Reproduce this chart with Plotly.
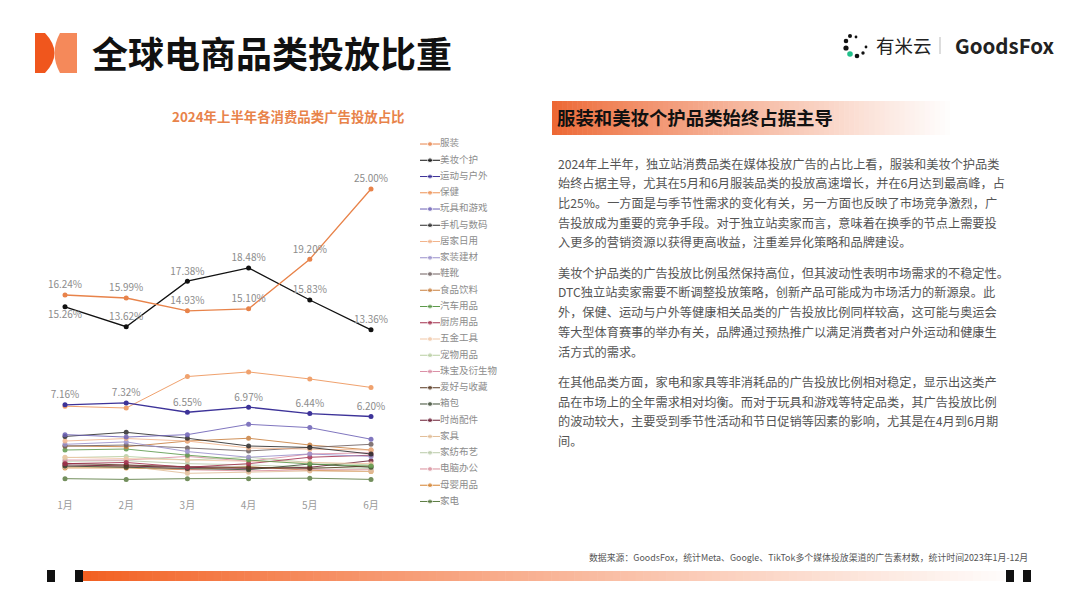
import plotly.graph_objects as go

# ---------------- data ----------------
months = ["1月", "2月", "3月", "4月", "5月", "6月"]
categories = ["服装", "美妆个护", "运动与户外", "保健", "玩具和游戏", "手机与数码", "居家日用",
              "家装建材", "鞋靴", "食品饮料", "汽车用品", "厨房用品", "五金工具", "宠物用品",
              "珠宝及衍生物", "爱好与收藏", "箱包", "时尚配件", "家具", "家纺布艺", "电脑办公",
              "母婴用品", "家电"]

clothing = [16.24, 15.99, 14.93, 15.10, 19.20, 25.00]
beauty = [15.26, 13.62, 17.38, 18.48, 15.83, 13.36]
sports = [7.16, 7.32, 6.55, 6.97, 6.44, 6.20]
health = [7.05, 6.90, 9.50, 9.88, 9.30, 8.60]
toys = [4.70, 4.50, 4.70, 5.55, 5.28, 4.32]
phones = [4.55, 4.89, 4.40, 3.76, 3.64, 3.10]
household = [4.17, 4.38, 4.17, 3.60, 3.50, 3.43]
homedeco = [3.90, 4.10, 3.30, 2.83, 3.10, 2.90]
shoes = [3.76, 3.84, 3.60, 3.35, 3.64, 3.90]
food = [3.76, 3.70, 4.17, 4.40, 3.84, 3.43]
auto = [3.43, 3.51, 3.00, 2.60, 2.27, 2.10]
kitchen = [2.30, 2.40, 2.00, 2.30, 2.83, 3.00]
hardware = [2.83, 2.70, 2.60, 2.50, 2.40, 2.30]
pets = [2.80, 2.90, 2.60, 2.83, 2.40, 2.20]
jewelry = [2.60, 2.60, 2.90, 2.50, 3.10, 3.20]
hobby = [2.33, 2.20, 2.05, 2.00, 1.90, 2.10]
bags = [2.10, 2.00, 1.90, 1.80, 2.27, 2.00]
fashion_acc = [2.20, 2.10, 1.95, 1.90, 2.00, 2.55]
furniture = [2.00, 2.10, 1.50, 1.60, 1.70, 1.65]
textiles = [2.50, 2.55, 2.30, 2.20, 2.00, 1.90]
computer = [2.05, 2.20, 1.80, 1.70, 1.80, 1.80]
baby = [1.95, 1.95, 1.80, 2.05, 1.75, 1.65]
appliances = [1.06, 1.00, 1.06, 1.06, 1.10, 1.00]

series_values = [clothing, beauty, sports, health, toys, phones, household, homedeco, shoes,
                 food, auto, kitchen, hardware, pets, jewelry, hobby, bags, fashion_acc,
                 furniture, textiles, computer, baby, appliances]

# ---------------- styles ----------------
colors = ["#E8834A", "#111111", "#3D3399", "#EE9255", "#6B5FB5", "#2A2A2A", "#F2B48C",
          "#9A90CC", "#6E5F5F", "#C9803F", "#5E9A4C", "#A3304E", "#F1C7A6", "#B9CFA3",
          "#DB90A6", "#5A3A22", "#3C4B33", "#6A1C33", "#E2BE98", "#BACBA9", "#D98F9C",
          "#D4822F", "#5B7C41"]
labelled = {0: ["top center"] * 6,
            1: ["bottom center"] + ["top center"] * 5,
            2: ["top center"] * 6}

W, H = 1080, 608
FONT = "Noto Sans CJK SC"


def px(x):
    return x / W


def py(y):
    return 1 - y / H


fig = go.Figure()

# main lines (draw minor categories first, leaders on top)
order = list(range(len(categories)))[::-1]
for i in order:
    vals = series_values[i]
    if i in labelled:
        fig.add_trace(go.Scatter(
            x=months, y=vals, name=categories[i], mode="lines+markers+text",
            text=[f"{v:.2f}%" for v in vals], textposition=labelled[i],
            textfont=dict(size=10, color="#8C8C8C", family=FONT),
            line=dict(color=colors[i], width=1.3), marker=dict(size=5, color=colors[i]),
            cliponaxis=False, showlegend=False))
    else:
        fig.add_trace(go.Scatter(
            x=months, y=vals, name=categories[i], mode="lines+markers",
            line=dict(color=colors[i], width=1), marker=dict(size=5, color=colors[i]),
            opacity=0.85, cliponaxis=False, showlegend=False))

# legend drawn on its own small axis pair
for i, name in enumerate(categories):
    fig.add_trace(go.Scatter(
        x=[0, 0.5, 1], y=[name] * 3, xaxis="x2", yaxis="y2",
        mode="lines+markers+text", text=["", "", name], textposition="middle right",
        textfont=dict(size=9.5, color="#8C8C8C", family=FONT),
        line=dict(color=colors[i], width=1), marker=dict(size=[0, 5, 0], color=colors[i]),
        cliponaxis=False, showlegend=False, hoverinfo="skip"))

fig.update_layout(
    width=W, height=H, margin=dict(l=0, r=0, t=0, b=0),
    paper_bgcolor="white", plot_bgcolor="rgba(0,0,0,0)",
    font=dict(family=FONT),
    xaxis=dict(domain=[px(34.4), px(401.6)], range=[-0.5, 5.5], showgrid=False,
               zeroline=False, showline=False, ticks="",
               tickfont=dict(size=10, color="#9A9A9A", family=FONT), ticklabelstandoff=6),
    yaxis=dict(domain=[py(491.5), py(164.8)], range=[0, 27], visible=False),
    xaxis2=dict(domain=[px(420), px(440)], range=[0, 1], visible=False, anchor="y2"),
    yaxis2=dict(domain=[py(509.6), py(135.9)], type="category", categoryorder="array",
                categoryarray=categories, range=[22.5, -0.5], visible=False, anchor="x2"),
)

shapes = []
# top-left logo
shapes.append(dict(type="path", xref="paper", yref="paper",
                   path=f"M {px(35)},{py(33)} L {px(45)},{py(33)} Q {px(64)},{py(53)} {px(45)},{py(73)} L {px(35)},{py(73)} Z",
                   fillcolor="#F0561D", line=dict(width=0)))
shapes.append(dict(type="path", xref="paper", yref="paper",
                   path=f"M {px(60)},{py(33)} L {px(77)},{py(33)} L {px(77)},{py(73)} L {px(60)},{py(73)} Q {px(49)},{py(53)} {px(60)},{py(33)} Z",
                   fillcolor="#F5895A", line=dict(width=0)))

# section header gradient bar
N = 80
x0, x1 = 552, 955
for k in range(N):
    t = k / (N - 1)
    c0 = (237, 104, 52)
    f = min(1, t ** 0.85)
    r = int(c0[0] + (255 - c0[0]) * f)
    g = int(c0[1] + (255 - c0[1]) * f)
    b = int(c0[2] + (255 - c0[2]) * f)
    xa = x0 + (x1 - x0) * k / N
    xb = x0 + (x1 - x0) * (k + 1) / N + 0.6
    shapes.append(dict(type="rect", xref="paper", yref="paper", x0=px(xa), x1=px(xb),
                       y0=py(135), y1=py(101), fillcolor=f"rgb({r},{g},{b})", line=dict(width=0),
                       layer="below"))

# footer gradient bar
N2 = 120
fx0, fx1 = 83, 1004
for k in range(N2):
    t = k / (N2 - 1)
    c0 = (242, 88, 22)
    f = min(1, 0.05 + 0.93 * t ** 0.9)
    r = int(c0[0] + (255 - c0[0]) * f)
    g = int(c0[1] + (255 - c0[1]) * f)
    b = int(c0[2] + (255 - c0[2]) * f)
    xa = fx0 + (fx1 - fx0) * k / N2
    xb = fx0 + (fx1 - fx0) * (k + 1) / N2 + 0.6
    shapes.append(dict(type="rect", xref="paper", yref="paper", x0=px(xa), x1=px(xb),
                       y0=py(581), y1=py(571), fillcolor=f"rgb({r},{g},{b})", line=dict(width=0)))
for sx in [(47, 55), (75, 83), (1006, 1014), (1023, 1031)]:
    shapes.append(dict(type="rect", xref="paper", yref="paper", x0=px(sx[0]), x1=px(sx[1]),
                       y0=py(582), y1=py(570), fillcolor="#111111", line=dict(width=0)))

# top-right logo icon dots
dots = [(850, 36, 2.0), (846, 41, 2.3), (846, 48, 2.6), (850, 54, 2.8), (857, 56, 2.3),
        (863, 53, 1.7), (866, 47, 1.4), (856, 37, 1.4)]
dot_cols = ["#111111", "#111111", "#111111", "#21C08B", "#111111", "#111111", "#111111", "#111111"]
for (cx, cy, rr), cc in zip(dots, dot_cols):
    shapes.append(dict(type="circle", xref="paper", yref="paper", x0=px(cx - rr), x1=px(cx + rr),
                       y0=py(cy + rr), y1=py(cy - rr), fillcolor=cc, line=dict(width=0)))
shapes.append(dict(type="line", xref="paper", yref="paper", x0=px(940), x1=px(940),
                   y0=py(54), y1=py(37), line=dict(color="#BBBBBB", width=1)))
fig.update_layout(shapes=shapes)

ann = []


def text(x, y, s, size, color, xanchor="left", bold=False, family=FONT):
    ann.append(dict(x=px(x), y=py(y), xref="paper", yref="paper", text=f"<b>{s}</b>" if bold else s,
                    showarrow=False, xanchor=xanchor, yanchor="middle",
                    font=dict(size=size, color=color, family=family)))


text(90, 52, "全球电商品类投放比重", 36, "#111111", bold=True)
text(288, 116, "2024年上半年各消费品类广告投放占比", 13.4, "#E8834A", xanchor="center", bold=True)
text(874, 45, "有米云", 18.5, "#222222")
text(953, 45, "GoodsFox", 20.5, "#222222", bold=True)
text(555, 117, "服装和美妆个护品类始终占据主导", 18.4, "#111111", bold=True)

paragraphs = [
    ["2024年上半年，独立站消费品类在媒体投放广告的占比上看，服装和美妆个护品类",
     "始终占据主导，尤其在5月和6月服装品类的投放高速增长，并在6月达到最高峰，占",
     "比25%。一方面是与季节性需求的变化有关，另一方面也反映了市场竞争激烈，广",
     "告投放成为重要的竞争手段。对于独立站卖家而言，意味着在换季的节点上需要投",
     "入更多的营销资源以获得更高收益，注重差异化策略和品牌建设。"],
    ["美妆个护品类的广告投放比例虽然保持高位，但其波动性表明市场需求的不稳定性。",
     "DTC独立站卖家需要不断调整投放策略，创新产品可能成为市场活力的新源泉。此",
     "外，保健、运动与户外等健康相关品类的广告投放比例同样较高，这可能与奥运会",
     "等大型体育赛事的举办有关，品牌通过预热推广以满足消费者对户外运动和健康生",
     "活方式的需求。"],
    ["在其他品类方面，家电和家具等非消耗品的广告投放比例相对稳定，显示出这类产",
     "品在市场上的全年需求相对均衡。而对于玩具和游戏等特定品类，其广告投放比例",
     "的波动较大，主要受到季节性活动和节日促销等因素的影响，尤其是在4月到6月期",
     "间。"],
]
y = 163.5
for para in paragraphs:
    for line in para:
        text(556, y, line, 12.2, "#555555")
        y += 19.7
    y += 30 - 19.7 + 0.5

text(1030, 557, "数据来源：GoodsFox，统计Meta、Google、TikTok多个媒体投放渠道的广告素材数，统计时间2023年1月-12月",
     8.9, "#555555", xanchor="right")

fig.update_layout(annotations=ann)
fig.write_html("out.html", config={"displayModeBar": False},
               post_script="document.body.style.margin='0px';")
